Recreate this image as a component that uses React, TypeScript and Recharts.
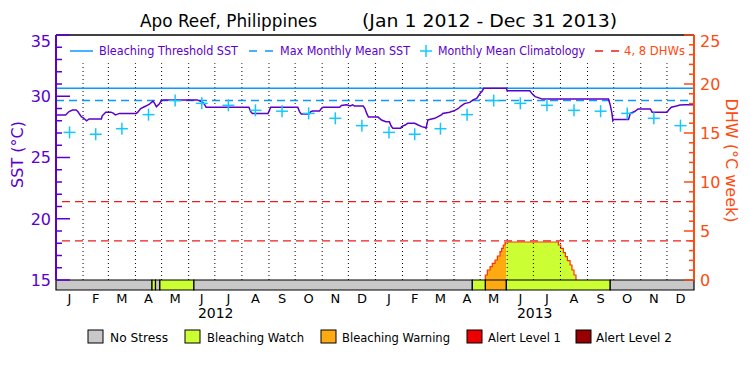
import {
  Area,
  ComposedChart,
  Legend,
  Line,
  ReferenceArea,
  ReferenceLine,
  Scatter,
  XAxis,
  YAxis,
} from "recharts";

const PURPLE = "#5c00cc";
const AXIS_ORANGE = "#ff4a10";
const BLUE = "#0a99ff";
const CYAN = "#14c8ff";
const RED = "#ee1c1c";
const DHW_EDGE = "#ff3300";
const FONT = "'DejaVu Sans', sans-serif";

const monthLetters = ["J", "F", "M", "A", "M", "J", "J", "A", "S", "O", "N", "D"];
const years = ["2012", "2013"];
const monthLengths = [
  31, 29, 31, 30, 31, 30, 31, 31, 30, 31, 30, 31,
  31, 28, 31, 30, 31, 30, 31, 31, 30, 31, 30, 31,
];
const totalDays = 731;

const sstTicks = [15, 16, 17, 18, 19, 20, 21, 22, 23, 24, 25, 26, 27, 28, 29, 30, 31, 32, 33, 34, 35];
const dhwTicks = [0, 1, 2, 3, 4, 5, 6, 7, 8, 9, 10, 11, 12, 13, 14, 15, 16, 17, 18, 19, 20, 21, 22, 23, 24, 25];

// monthly mean climatology, Jan..Dec
const climatology = [27.05, 26.9, 27.35, 28.5, 29.65, 29.42, 29.26, 28.85, 28.78, 28.6, 28.2, 27.6];
const maxMonthlyMean = 29.65;
const bleachingThreshold = 30.65;
const dhwMarks = [4, 8];

// day index from Jan 1 2012
const sstDays = [
  0, 11, 15, 19, 23, 25, 29, 32, 35, 38, 52, 53, 57, 63, 66, 68, 73, 92, 94, 97,
  103, 107, 111, 113, 115, 118, 121, 124, 162, 168, 170, 172, 221, 223, 225, 243, 246, 277, 279, 281,
  290, 292, 294, 302, 304, 306, 325, 327, 333, 337, 340, 342, 352, 354, 356, 358, 369, 373, 378, 382,
  384, 386, 395, 396, 400, 403, 411, 415, 419, 423, 424, 426, 428, 434, 442, 443, 451, 457, 461, 464,
  468, 474, 478, 482, 486, 488, 490, 516, 517, 543, 545, 549, 555, 557, 633, 635, 637, 638, 639, 656,
  658, 663, 667, 681, 683, 700, 702, 705, 711, 715, 721, 730,
];
const sstValues = [
  28.47, 28.47, 28.75, 28.88, 28.88, 28.75, 28.33, 28.2, 28.0, 28.15, 28.15, 28.4, 28.7, 28.7, 28.6, 28.47, 28.6, 28.6, 28.72, 29.0,
  29.2, 29.35, 29.6, 29.42, 29.15, 29.35, 29.65, 29.7, 29.7, 29.5, 29.35, 29.1, 29.1, 28.75, 28.6, 28.6, 29.1, 29.1, 28.75, 28.55,
  28.55, 28.75, 28.8, 28.8, 29.0, 29.1, 29.1, 29.25, 29.3, 29.2, 29.3, 29.2, 29.2, 29.0, 28.6, 28.3, 28.3, 28.06, 27.92, 27.92,
  27.57, 27.38, 27.38, 27.52, 27.65, 27.79, 27.79, 27.65, 27.52, 27.45, 27.38, 28.06, 28.1, 28.2, 28.5, 28.6, 28.7, 28.85, 29.0, 29.2,
  29.4, 29.5, 29.7, 29.83, 30.24, 30.38, 30.65, 30.65, 30.45, 30.45, 30.24, 29.97, 29.83, 29.77, 29.77, 29.3, 28.6, 28.0, 28.1, 28.1,
  28.6, 28.75, 28.96, 28.96, 28.7, 28.7, 28.88, 29.1, 29.2, 29.28, 29.3, 29.3,
];

// degree heating weeks, split by alert stage
const warningDays = [491.5, 491.9, 494.2, 497.3, 499.9, 503, 505.7, 508.7, 510.6, 512.5, 514.5, 515.9];
const warningDhw = [0, 0.51, 1.02, 1.36, 1.7, 2.04, 2.45, 2.9, 3.23, 3.57, 3.81, 3.88];
const watchDays = [515.9, 575.6, 578.3, 581.3, 583.6, 585.9, 589, 591.2, 593.5, 595.8];
const watchDhw = [3.88, 3.57, 3.23, 2.79, 2.38, 1.97, 1.53, 1.02, 0.51, 0];

const statusStart = [0, 110, 114, 119, 158, 477, 492, 516, 635];
const statusEnd = [110, 114, 119, 158, 477, 492, 516, 635, 731];
const statusLevel = [0, 1, 0, 1, 0, 1, 2, 1, 0];
const statusNames = ["No Stress", "Bleaching Watch", "Bleaching Warning", "Alert Level 1", "Alert Level 2"];
const statusColors = ["#c8c8c8", "#ccff33", "#ffaa11", "#ee0000", "#960000"];
// the stress bar hangs under the plot, in DHW units
const statusBand = [-1.02, 0];

const monthStarts: number[] = [];
let acc = 0;
for (const len of monthLengths) {
  monthStarts.push(acc);
  acc += len;
}
const monthMids = monthStarts.map((s, i) => s + monthLengths[i] / 2);
const monthLines = monthStarts.slice(1);
const yearMids = [(monthStarts[0] + monthStarts[12]) / 2, (monthStarts[12] + totalDays) / 2];

const sstData = sstDays.map((d, i) => ({ d, v: sstValues[i] }));
const climData = monthMids.map((d, i) => ({ d, v: climatology[i % 12] }));
const warningData = warningDays.map((d, i) => ({ d, v: warningDhw[i] }));
const watchData = watchDays.map((d, i) => ({ d, v: watchDhw[i] }));

function SstTick(props: any) {
  const { x, y, payload } = props;
  const major = payload.value % 5 === 0;
  const ly = payload.value === 35 ? y + 6 : y;
  return (
    <g>
      <line x1={x} x2={x + (major ? 14 : 6)} y1={y} y2={y} stroke={PURPLE} strokeWidth={1.5} />
      {major && (
        <text x={x - 5} y={ly} dy="0.36em" textAnchor="end" fill={PURPLE} fontSize={16} fontFamily={FONT}>
          {payload.value}
        </text>
      )}
    </g>
  );
}

function DhwTick(props: any) {
  const { x, y, payload } = props;
  const major = payload.value % 5 === 0;
  const ly = payload.value === 25 ? y + 6 : y;
  return (
    <g>
      <line x1={x} x2={x - (major ? 10 : 5)} y1={y} y2={y} stroke={AXIS_ORANGE} strokeWidth={1.5} />
      {major && (
        <text x={x + 6} y={ly} dy="0.36em" textAnchor="start" fill={AXIS_ORANGE} fontSize={16} fontFamily={FONT}>
          {payload.value}
        </text>
      )}
    </g>
  );
}

function Plus(props: any) {
  const { cx, cy } = props;
  return (
    <g stroke={CYAN} strokeWidth={1.5}>
      <line x1={cx - 6} x2={cx + 6} y1={cy} y2={cy} />
      <line x1={cx} x2={cx} y1={cy - 6} y2={cy + 6} />
    </g>
  );
}

const boxX = [88, 185, 321, 467, 576];
const textX = [110, 207, 342, 488, 596];
const textW = [58, 97, 108, 73, 76];

function Legends() {
  const y = 51;
  const sy = 337;
  return (
    <svg width={750} height={375} style={{ display: "block", pointerEvents: "none" }}>
      <g fontFamily={FONT} fontSize={12}>
        <line x1={70} x2={93} y1={y} y2={y} stroke={BLUE} strokeWidth={1.5} />
        <text x={99} y={y} dy="0.36em" fill={PURPLE} textLength={139} lengthAdjust="spacingAndGlyphs">
          Bleaching Threshold SST
        </text>
        <line x1={249} x2={273} y1={y} y2={y} stroke={BLUE} strokeWidth={1.5} strokeDasharray="8 8" />
        <text x={280} y={y} dy="0.36em" fill={PURPLE} textLength={130} lengthAdjust="spacingAndGlyphs">
          Max Monthly Mean SST
        </text>
        <Plus cx={426} cy={y} />
        <text x={438} y={y} dy="0.36em" fill={PURPLE} textLength={147} lengthAdjust="spacingAndGlyphs">
          Monthly Mean Climatology
        </text>
        <line x1={595} x2={620} y1={y} y2={y} stroke={RED} strokeWidth={1.5} strokeDasharray="8 8" />
        <text x={624} y={y} dy="0.36em" fill={AXIS_ORANGE} textLength={61} lengthAdjust="spacingAndGlyphs">
          4, 8 DHWs
        </text>
      </g>
      {statusNames.map((name, i) => (
        <g key={name}>
          <rect x={boxX[i]} y={sy - 7} width={15} height={13} fill={statusColors[i]} stroke="#000" strokeWidth={1} />
          <text
            x={textX[i]}
            y={sy}
            dy="0.36em"
            fontSize={13}
            fontFamily={FONT}
            fill="#000"
            textLength={textW[i]}
            lengthAdjust="spacingAndGlyphs"
          >
            {name}
          </text>
        </g>
      ))}
    </svg>
  );
}

export default function App() {
  return (
    <div style={{ position: "absolute", left: 0, top: 0, width: 750, height: 375, background: "#fff" }}>
      <svg width={750} height={35} style={{ position: "absolute", left: 0, top: 0 }}>
        <g fontFamily={FONT} fontSize={17} fill="#000">
          <text x={140} y={21} dy="0.36em" textLength={177} lengthAdjust="spacingAndGlyphs">
            Apo Reef, Philippines
          </text>
          <text x={362} y={21} dy="0.36em" textLength={255} lengthAdjust="spacingAndGlyphs">
            (Jan 1 2012 - Dec 31 2013)
          </text>
        </g>
      </svg>

      <div style={{ position: "absolute", left: 0, top: 0 }}>
        <ComposedChart width={750} height={375} margin={{ top: 35, right: 55, bottom: 49, left: 55 }}>
          <XAxis
            xAxisId="month"
            dataKey="d"
            type="number"
            domain={[0, totalDays]}
            ticks={monthMids}
            interval={0}
            height={26}
            tickSize={0}
            tickMargin={14}
            axisLine={false}
            tickLine={false}
            allowDataOverflow
            tick={{ fill: "#000", fontSize: 13, fontFamily: FONT }}
            tickFormatter={(_v: number, i: number) => monthLetters[i % 12]}
          />
          <XAxis
            xAxisId="year"
            dataKey="d"
            type="number"
            domain={[0, totalDays]}
            ticks={yearMids}
            interval={0}
            height={20}
            tickSize={0}
            tickMargin={2}
            axisLine={false}
            tickLine={false}
            allowDataOverflow
            tick={{ fill: "#000", fontSize: 14, fontFamily: FONT }}
            tickFormatter={(_v: number, i: number) => years[i]}
          />
          <YAxis
            yAxisId="sst"
            type="number"
            domain={[15, 35]}
            ticks={sstTicks}
            interval={0}
            width={1}
            tickSize={0}
            tickMargin={0}
            tickLine={false}
            tick={<SstTick />}
            axisLine={{ stroke: PURPLE, strokeWidth: 2 }}
            label={{
              content: (p: any) => {
                const vb = p.viewBox;
                const cx = vb.x - 38;
                const cy = vb.y + vb.height / 2 - 3;
                return (
                  <text x={cx} y={cy} transform={`rotate(-90 ${cx} ${cy})`} textAnchor="middle" dy="0.36em" fill={PURPLE} fontSize={16} fontFamily={FONT}>
                    SST (°C)
                  </text>
                );
              },
            }}
          />
          <YAxis
            yAxisId="dhw"
            orientation="right"
            type="number"
            domain={[0, 25]}
            ticks={dhwTicks}
            interval={0}
            width={1}
            tickSize={0}
            tickMargin={0}
            tickLine={false}
            tick={<DhwTick />}
            axisLine={{ stroke: AXIS_ORANGE, strokeWidth: 2 }}
            label={{
              content: (p: any) => {
                const vb = p.viewBox;
                const cx = vb.x + 38;
                const cy = vb.y + vb.height / 2 + 3;
                return (
                  <text x={cx} y={cy} transform={`rotate(90 ${cx} ${cy})`} textAnchor="middle" dy="0.36em" fill={AXIS_ORANGE} fontSize={16} fontFamily={FONT}>
                    DHW (°C week)
                  </text>
                );
              },
            }}
          />
          <Legend verticalAlign="middle" layout="horizontal" content={<Legends />} wrapperStyle={{ left: 0, top: 0, width: 750, height: 375 }} />

          <Area
            data={warningData}
            dataKey="v"
            xAxisId="month"
            yAxisId="dhw"
            type="stepAfter"
            fill={statusColors[2]}
            fillOpacity={1}
            stroke={DHW_EDGE}
            strokeWidth={1.2}
            isAnimationActive={false}
          />
          <Area
            data={watchData}
            dataKey="v"
            xAxisId="month"
            yAxisId="dhw"
            type="stepAfter"
            fill={statusColors[1]}
            fillOpacity={1}
            stroke={DHW_EDGE}
            strokeWidth={1.2}
            isAnimationActive={false}
          />

          {monthLines.map((d) => (
            <ReferenceLine
              key={d}
              xAxisId="month"
              yAxisId="sst"
              segment={[{ x: d, y: 15 }, { x: d, y: 32.7 }]}
              stroke="#000"
              strokeWidth={1}
              strokeDasharray="1 3"
            />
          ))}
          <ReferenceLine xAxisId="month" yAxisId="sst" y={bleachingThreshold} stroke={BLUE} strokeWidth={1.5} />
          <ReferenceLine xAxisId="month" yAxisId="sst" y={maxMonthlyMean} stroke={BLUE} strokeWidth={1.5} strokeDasharray="8 5" />
          {dhwMarks.map((m) => (
            <ReferenceLine key={m} xAxisId="month" yAxisId="dhw" y={m} stroke={RED} strokeWidth={1.3} strokeDasharray="8 5" />
          ))}
          <ReferenceLine xAxisId="month" yAxisId="sst" y={35} stroke="#000" strokeWidth={1.5} />

          {statusStart.map((s, i) => (
            <ReferenceArea
              key={s}
              xAxisId="month"
              yAxisId="dhw"
              x1={s}
              x2={statusEnd[i]}
              y1={statusBand[0]}
              y2={statusBand[1]}
              fill={statusColors[statusLevel[i]]}
              fillOpacity={1}
              stroke="#000"
              strokeWidth={1.2}
              ifOverflow="visible"
            />
          ))}

          <Scatter data={climData} dataKey="v" xAxisId="year" yAxisId="sst" shape={<Plus />} isAnimationActive={false} />
          <Line
            data={sstData}
            dataKey="v"
            xAxisId="month"
            yAxisId="sst"
            type="linear"
            stroke={PURPLE}
            strokeWidth={1.5}
            dot={false}
            isAnimationActive={false}
          />
        </ComposedChart>
      </div>
    </div>
  );
}
